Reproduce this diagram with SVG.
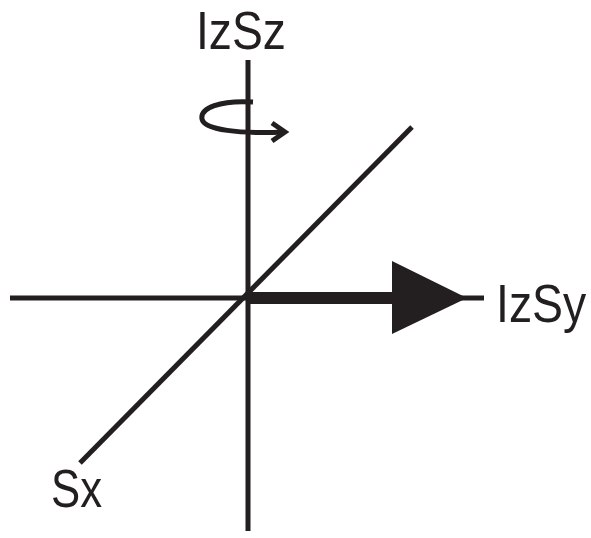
<svg xmlns="http://www.w3.org/2000/svg" width="591" height="538" viewBox="0 0 591 538">
<style>
.ax{stroke:#231f20;stroke-width:5;fill:none}
.lbl{font-family:"Liberation Sans",Arial,sans-serif;font-size:54px;fill:#231f20}
</style>
<rect width="591" height="538" fill="#fff"/>
<g id="connectors">
<line class="ax" x1="248" y1="60" x2="248" y2="531"/>
<line class="ax" x1="10" y1="298" x2="484" y2="298"/>
<line class="ax" x1="80" y1="463" x2="412" y2="127"/>
<rect x="248" y="292" width="150" height="12" fill="#231f20"/>
<polygon points="392,261 467,298 392,334" fill="#231f20"/>
<path class="ax" stroke-width="4" d="M253,102 C220,100 200,108 202,119 C204,130 240,134 284,132"/>
<path class="ax" stroke-width="4" d="M272,123 L285,132 L272,141"/>
</g>
<g id="IzSz"><text class="lbl" x="196" y="49" font-size="48" textLength="90" lengthAdjust="spacingAndGlyphs">IzSz</text></g>
<g id="IzSy" transform="translate(496,322) scale(0.86,1)"><text class="lbl" x="0" y="0">IzSy</text></g>
<g id="Sx"><text class="lbl" x="51" y="507" textLength="51" lengthAdjust="spacingAndGlyphs">Sx</text></g>
</svg>
